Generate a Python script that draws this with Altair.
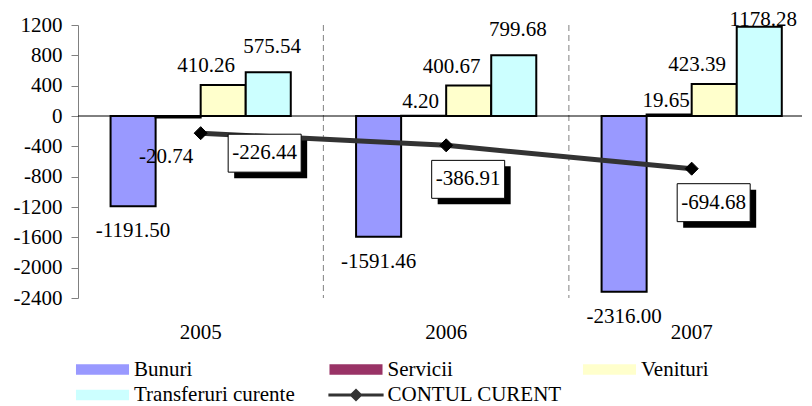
import altair as alt
import pandas as pd

# ---------------- data ----------------
years = ["2005", "2006", "2007"]
series = ["Bunuri", "Servicii", "Venituri", "Transferuri curente"]
bunuri = [-1191.50, -1591.46, -2316.00]
servicii = [-20.74, 4.20, 19.65]
venituri = [410.26, 400.67, 423.39]
transferuri = [575.54, 799.68, 1178.28]
line_name = "CONTUL CURENT"
contul = [-226.44, -386.91, -694.68]
y_ticks = [1200, 800, 400, 0, -400, -800, -1200, -1600, -2000, -2400]

bar_colors = ["#9999FF", "#993366", "#FFFFCC", "#CCFFFF"]
line_color = "#333333"

rows = []
for s, vals in zip(series, [bunuri, servicii, venituri, transferuri]):
    for yr, v in zip(years, vals):
        rows.append({"year": yr, "series": s, "value": v})
bars_df = pd.DataFrame(rows)
line_df = pd.DataFrame({"year": years, "value": contul})
divider_df = pd.DataFrame({"year": years[:-1]})
legend_df = pd.DataFrame({"series": series + [line_name]})

FONT = "Liberation Serif"
FS = 21
W, H = 724, 273
# label text with an ASCII hyphen as minus sign
LABEL_EXPR = "replace(format(datum.value, '.2f'), '\u2212', '-')"

x_scale = alt.Scale(domain=years, paddingInner=0.266, paddingOuter=0.1075, align=0.617)
y_scale = alt.Scale(domain=[-2400, 1200], nice=False, zero=False)
off_scale = alt.Scale(domain=series, paddingInner=0, paddingOuter=0)

x_axis = alt.Axis(title=None, labelAngle=0, labelAlign="center", bandPosition=0.5,
                  domain=False, ticks=False, grid=False,
                  labelPadding=23, labelFont=FONT, labelFontSize=FS, labelColor="black")
y_axis = alt.Axis(title=None, values=y_ticks, tickCount=10, grid=False, tickSize=7, labelPadding=9,
                  labelOverlap=False, labelExpr="toString(datum.value)",
                  domainColor="#808080", tickColor="#808080", labelFont=FONT,
                  labelFontSize=FS, labelColor="black")

X = alt.X("year:N", scale=x_scale, axis=x_axis)
XO = alt.XOffset("series:N", scale=off_scale, sort=series)
Y = alt.Y("value:Q", scale=y_scale, axis=y_axis)

# dashed dividers between categories (end of band + half the inner padding)
dividers = alt.Chart(divider_df).mark_rule(color="#808080", strokeWidth=1, strokeDash=[6, 4],
                                           xOffset=32.6).encode(
    x=alt.X("year:N", scale=x_scale, bandPosition=1, axis=x_axis),
    y=alt.Y(datum=1200, scale=y_scale, axis=y_axis),
    y2=alt.Y2(datum=-2400),
)

bars = alt.Chart(bars_df).mark_bar(stroke="black", strokeWidth=2).encode(
    x=X, xOffset=XO, y=Y,
    fill=alt.Fill("series:N", scale=alt.Scale(domain=series, range=bar_colors), legend=None),
)

zero_line = alt.Chart(alt.Data(values=[{}])).mark_rule(color="black", strokeWidth=1).encode(
    y=alt.Y(datum=0, scale=y_scale, axis=y_axis)
)


def bar_labels(flt, dx, dy, ycol="value:Q", calc=None):
    c = alt.Chart(bars_df).transform_filter(flt).transform_calculate(label=LABEL_EXPR)
    if calc is not None:
        c = c.transform_calculate(anchor=calc)
    return c.mark_text(dx=dx, dy=dy, baseline="middle", align="center", font=FONT,
                       fontSize=FS, color="black").encode(
        x=X, xOffset=XO, y=alt.Y(ycol, scale=y_scale, axis=y_axis),
        text="label:N",
    )


lab_bunuri = bar_labels(alt.datum.series == "Bunuri", 0, 25)
lab_serv_neg = bar_labels((alt.datum.series == "Servicii") & (alt.datum.value < 0), -12, 39)
lab_serv_pos = bar_labels((alt.datum.series == "Servicii") & (alt.datum.value >= 0), -3, -14)
lab_ven = bar_labels(alt.datum.series == "Venituri", -17, -19)
# keep the label inside the plot area (clamped like the original)
lab_trans = bar_labels(alt.datum.series == "Transferuri curente", 4, -25,
                       ycol="anchor:Q", calc="min(datum.value, 940)")

line = alt.Chart(line_df).mark_line(color=line_color, strokeWidth=5).encode(x=X, y=Y)
points = alt.Chart(line_df).mark_point(shape="diamond", filled=True, fill="black", stroke="black",
                                        strokeWidth=1, size=170, opacity=1).encode(x=X, y=Y)

BOX = "M-1,-0.52L1,-0.52L1,0.52L-1,0.52Z"


def line_labels(flt, dx, dy):
    base = alt.Chart(line_df).transform_filter(flt).transform_calculate(label=LABEL_EXPR)
    shadow = base.mark_point(shape=BOX, size=5329, filled=True, fill="black", strokeWidth=0,
                             opacity=1, xOffset=dx + 6, yOffset=dy + 6).encode(x=X, y=Y)
    box = base.mark_point(shape=BOX, size=5329, filled=True, fill="white", stroke="black",
                          strokeWidth=1, opacity=1, xOffset=dx, yOffset=dy).encode(x=X, y=Y)
    txt = base.mark_text(dx=dx, dy=dy, baseline="middle", align="center", font=FONT,
                         fontSize=FS, color="black").encode(x=X, y=Y, text="label:N")
    return [shadow, box, txt]


ll_first = line_labels(alt.datum.year == years[0], 64, 20)
ll_rest = line_labels(alt.datum.year != years[0], 22, 34)

# legend (symbols only; the marks themselves are invisible)
RECT = "M-2.21,-0.4375L2.21,-0.4375L2.21,0.4375L-2.21,0.4375Z"
LINE = "M-2.3,-0.12L2.3,-0.12L2.3,0.12L-2.3,0.12Z M0,-0.55L0.55,0L0,0.55L-0.55,0Z"
legend_domain = series + [line_name]
leg = alt.Legend(title=None, orient="none", direction="horizontal", legendX=11.5, legendY=331,
                 columns=3, gridAlign="all",
                 columnPadding=15.5, rowPadding=2, symbolSize=576, labelOffset=18.5,
                 labelFont=FONT, labelFontSize=FS, labelColor="black", labelLimit=400,
                 symbolStrokeColor="black", symbolStrokeWidth=2, symbolOpacity=1, padding=0)
legend_layer = alt.Chart(legend_df).mark_point(filled=True, opacity=0, size=576, stroke="black",
                                               strokeWidth=2).encode(
    x=alt.value(0), y=alt.value(0),
    color=alt.Color("series:N", scale=alt.Scale(domain=legend_domain, range=bar_colors + [line_color]),
                    legend=leg),
    shape=alt.Shape("series:N", scale=alt.Scale(domain=legend_domain, range=[RECT] * 4 + [LINE]),
                    legend=leg),
)

chart = alt.layer(
    dividers, bars, zero_line, lab_bunuri, lab_serv_neg, lab_serv_pos, lab_ven, lab_trans,
    line, points, *ll_first, *ll_rest, legend_layer,
).properties(
    width=W, height=H,
    padding={"left": 70, "top": 17, "right": 2, "bottom": 106},
    autosize=alt.AutoSizeParams(type="none"),
).configure(font=FONT).configure_view(stroke=None)

chart.save("out.html", embed_options={"renderer": "svg", "actions": False})
